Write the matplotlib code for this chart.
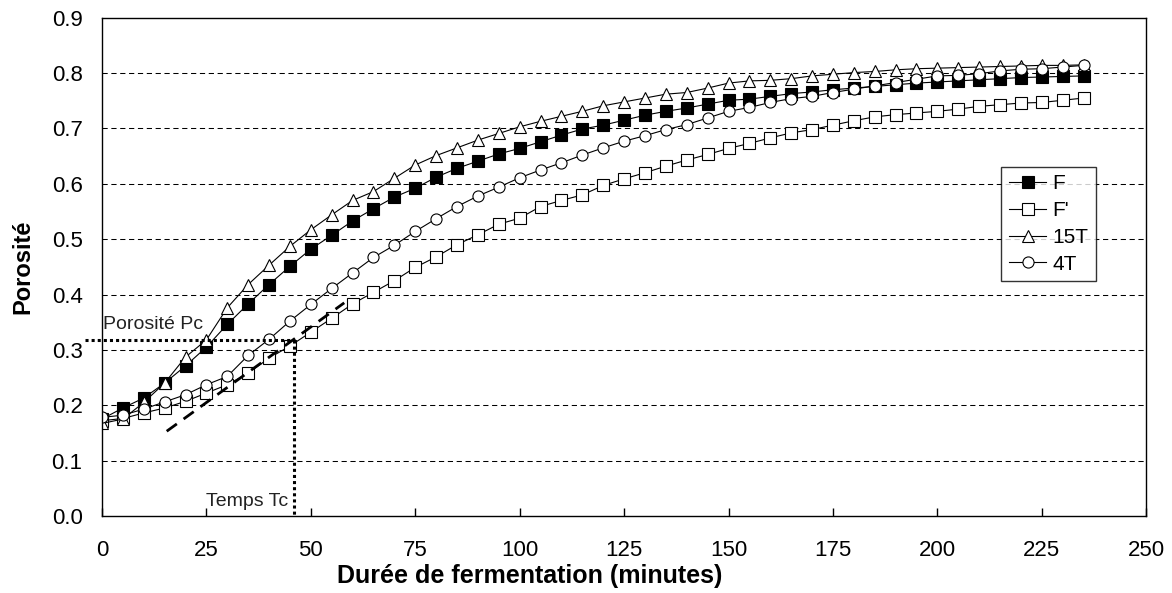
import numpy as np
import matplotlib
matplotlib.use('Agg')
import matplotlib.pyplot as plt

plt.rcParams['font.family'] = ['Liberation Sans', 'DejaVu Sans']

# temps (minutes), un point toutes les 5 minutes
temps = np.arange(0, 240, 5)

poro_F = [0.175, 0.195, 0.213, 0.240, 0.271, 0.305, 0.346, 0.383, 0.418, 0.451,
          0.482, 0.507, 0.533, 0.555, 0.576, 0.592, 0.612, 0.628, 0.641, 0.654,
          0.664, 0.676, 0.688, 0.699, 0.706, 0.715, 0.724, 0.731, 0.737, 0.744,
          0.751, 0.753, 0.758, 0.763, 0.766, 0.770, 0.773, 0.776, 0.779, 0.782,
          0.784, 0.786, 0.788, 0.790, 0.792, 0.793, 0.794, 0.795]

poro_Fp = [0.172, 0.176, 0.186, 0.195, 0.207, 0.222, 0.237, 0.258, 0.285, 0.307,
           0.332, 0.357, 0.383, 0.404, 0.425, 0.449, 0.468, 0.490, 0.508, 0.527,
           0.538, 0.559, 0.570, 0.580, 0.597, 0.609, 0.620, 0.632, 0.643, 0.653,
           0.664, 0.673, 0.683, 0.692, 0.698, 0.706, 0.714, 0.721, 0.725, 0.728,
           0.731, 0.735, 0.740, 0.743, 0.746, 0.747, 0.751, 0.755]

poro_15T = [0.167, 0.175, 0.205, 0.240, 0.287, 0.318, 0.376, 0.418, 0.453, 0.487,
            0.517, 0.544, 0.570, 0.586, 0.610, 0.634, 0.651, 0.665, 0.679, 0.691,
            0.703, 0.713, 0.722, 0.731, 0.741, 0.748, 0.755, 0.762, 0.765, 0.773,
            0.782, 0.786, 0.787, 0.790, 0.795, 0.798, 0.801, 0.803, 0.806, 0.808,
            0.809, 0.810, 0.811, 0.812, 0.813, 0.814, 0.814, 0.815]

poro_4T = [0.178, 0.182, 0.193, 0.206, 0.219, 0.237, 0.252, 0.290, 0.319, 0.352,
           0.382, 0.411, 0.439, 0.467, 0.489, 0.514, 0.537, 0.559, 0.578, 0.594,
           0.611, 0.625, 0.638, 0.652, 0.665, 0.677, 0.687, 0.698, 0.707, 0.719,
           0.731, 0.738, 0.747, 0.754, 0.758, 0.765, 0.771, 0.777, 0.783, 0.789,
           0.795, 0.796, 0.799, 0.804, 0.807, 0.808, 0.811, 0.814]

# point critique (Tc, Pc) et tangente
Tc = 46
Pc = 0.318
tangente_t = [15.5, 58]
tangente_p = [0.153, 0.385]

fig = plt.figure(figsize=(11.72, 5.93), dpi=100)
ax = fig.add_axes([0.087, 0.13, 0.891, 0.84])

ms = 8
kw = dict(color='k', linewidth=0.8, markersize=ms, markeredgewidth=0.8, markeredgecolor='k')
ax.plot(temps, poro_F, marker='s', markerfacecolor='k', label='F', **kw)
ax.plot(temps, poro_Fp, marker='s', markerfacecolor='white', label="F'", **kw)
ax.plot(temps, poro_15T, marker='^', markerfacecolor='white', label='15T', markersize=ms + 1,
        color='k', linewidth=0.8, markeredgewidth=0.8, markeredgecolor='k')
ax.plot(temps, poro_4T, marker='o', markerfacecolor='white', label='4T', **kw)

# lignes de construction
ax.plot([-4, Tc], [Pc, Pc], color='k', linewidth=2.2, linestyle=(0, (1, 1)), clip_on=False, zorder=5)
ax.plot([Tc, Tc], [Pc, 0], color='k', linewidth=2.2, linestyle=(0, (1, 1)), zorder=5)
ax.plot(tangente_t, tangente_p, color='k', linewidth=2.0, linestyle=(0, (4.5, 3)), zorder=5)

ax.text(0.3, 0.345, 'Porosité Pc', fontsize=14, color='#222222', ha='left', va='center')
ax.text(44.6, 0.026, 'Temps Tc', fontsize=14, color='#222222', ha='right', va='center')

ax.set_xlim(0, 250)
ax.set_ylim(0, 0.9)
ax.set_xticks(np.arange(0, 251, 25))
ax.set_yticks(np.arange(0, 0.91, 0.1))
ax.set_yticklabels([f'{v:.1f}' for v in np.arange(0, 0.91, 0.1)])
ax.tick_params(axis='x', direction='in', length=6, width=1, pad=17, labelsize=16)
ax.tick_params(axis='y', length=0, pad=14, labelsize=16)

for v in np.arange(0.1, 0.85, 0.1):
    ax.axhline(v, color='k', linewidth=0.75, linestyle=(0, (5, 3.5)), zorder=0)

for s in ax.spines.values():
    s.set_linewidth(1.0)

ax.set_xlabel('Durée de fermentation (minutes)', fontsize=18, fontweight='bold')
ax.xaxis.set_label_coords(0.41, -0.096)
ax.set_ylabel('Porosité', fontsize=17, fontweight='bold', labelpad=12)

leg = ax.legend(loc='upper left', bbox_to_anchor=(0.861, 0.701), borderaxespad=0, fontsize=15,
                frameon=True, fancybox=False, handlelength=1.8, handletextpad=0.3,
                labelspacing=0.37, borderpad=0.37)
leg.get_frame().set_edgecolor('k')
leg.get_frame().set_linewidth(1.0)

plt.savefig('out.png', dpi=100)
